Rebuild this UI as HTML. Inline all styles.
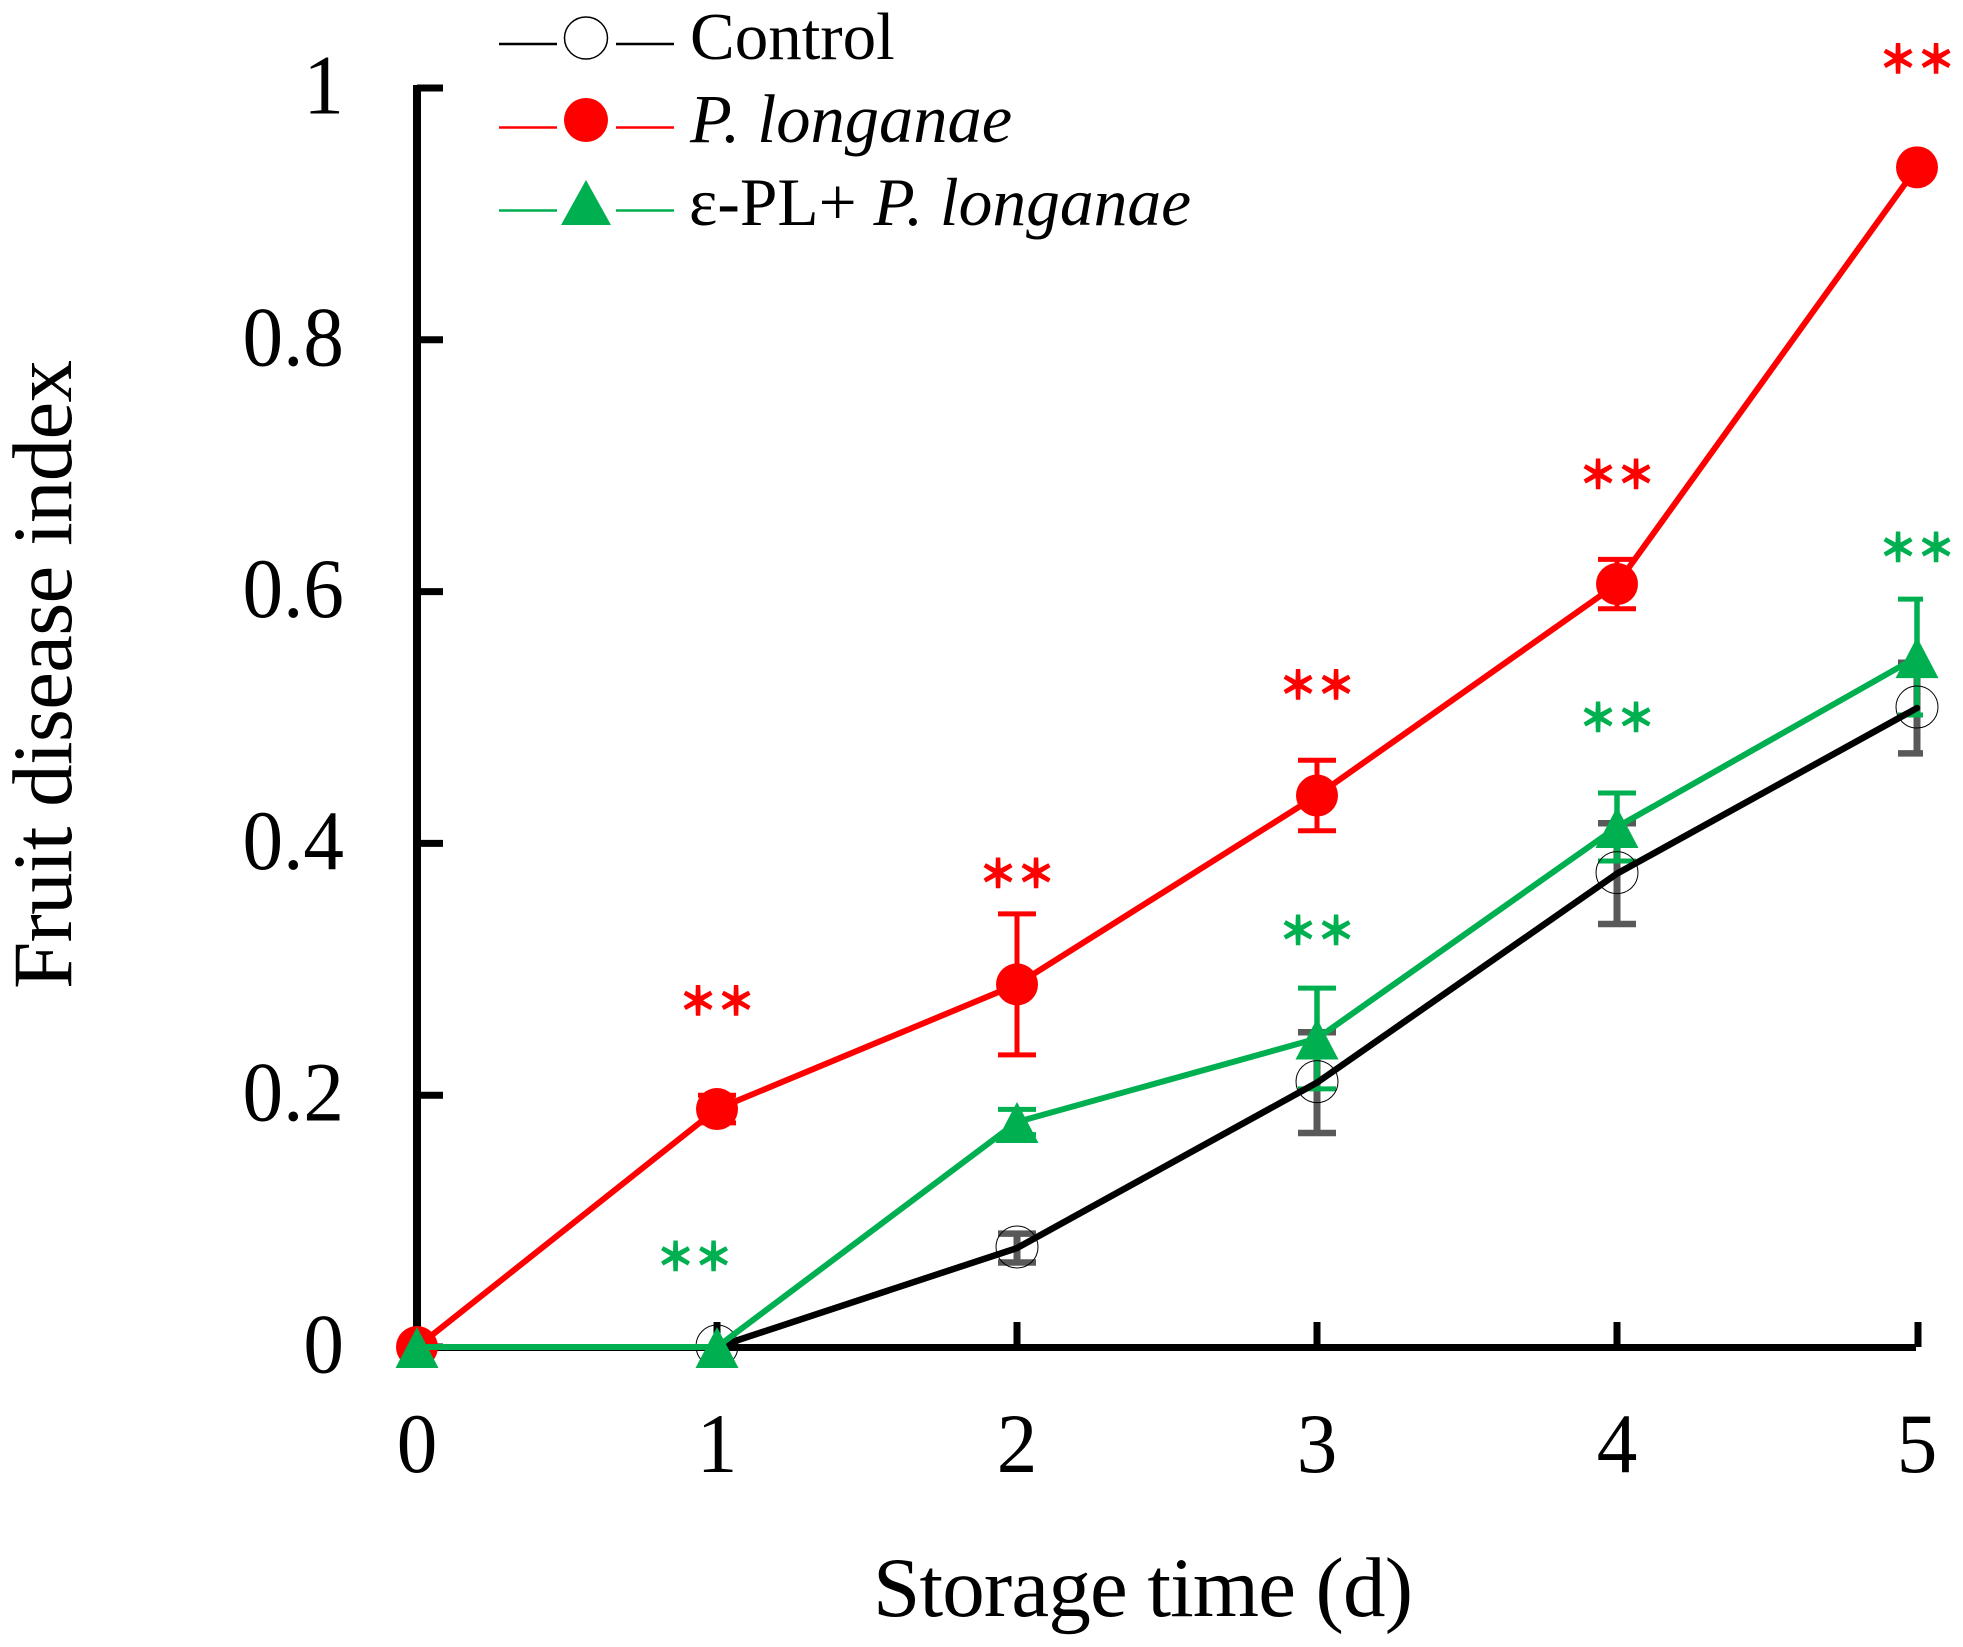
<!DOCTYPE html>
<html lang="en">
<head>
<meta charset="utf-8">
<title>Fruit disease index over storage time</title>
<style>
html,body{margin:0;padding:0;background:#fff;width:1963px;height:1647px;overflow:hidden}
svg{display:block}
text{font-family:"Liberation Serif","Noto Serif CJK SC",serif;fill:#000}
</style>
</head>
<body>
<svg id="chart" xmlns="http://www.w3.org/2000/svg" width="1963" height="1647" viewBox="0 0 1963 1647">
  <rect x="0" y="0" width="1963" height="1647" fill="#fff"/>
  <g id="axes"></g>
  <g id="marks"></g>
  <text x="873" y="1616" font-size="85" textLength="540" lengthAdjust="spacing">Storage time (d)</text>
  <text transform="translate(71,989) rotate(-90)" font-size="85" textLength="629" lengthAdjust="spacing">Fruit disease index</text>
  <g>
    <g>
      <line x1="499" x2="557" y1="44" y2="44" stroke="#000" stroke-width="2.5"/>
      <line x1="616" x2="674" y1="44" y2="44" stroke="#000" stroke-width="2.5"/>
      <ellipse cx="586" cy="38" rx="21.5" ry="21" fill="#fff" stroke="#000" stroke-width="1.5"/>
      <text x="690" y="59" font-size="67">Control</text>
    </g>
    <g>
      <line x1="499" x2="557" y1="127.500" y2="127.500" stroke="#f00" stroke-width="2.5"/>
      <line x1="616" x2="674" y1="127.500" y2="127.500" stroke="#f00" stroke-width="2.5"/>
      <ellipse cx="586" cy="120" rx="22" ry="22" fill="#f00"/>
      <text x="690" y="142" font-size="68.500" font-style="italic">P. longanae</text>
    </g>
    <g>
      <line x1="499" x2="557" y1="210.500" y2="210.500" stroke="#00B050" stroke-width="2.5"/>
      <line x1="616" x2="674" y1="210.500" y2="210.500" stroke="#00B050" stroke-width="2.5"/>
      <polygon points="586,180 611,225 561,225" fill="#00B050"/>
      <text x="689" y="225" font-size="67.500">ε-PL+ <tspan font-style="italic">P. longanae</tspan></text>
    </g>
  </g>
</svg>
<script>
const days = [0, 1, 2, 3, 4, 5];
const xTickLabels = ['0', '1', '2', '3', '4', '5'];
const yTicks = [0, 0.2, 0.4, 0.6, 0.8, 1];
const yTickLabels = ['0', '0.2', '0.4', '0.6', '0.8', '1'];

const controlValues = [0, 0, 0.0786, 0.21, 0.376, 0.5075];
const controlErrors = [0, 0, 0.0115, 0.04, 0.04, 0.036];
const pathogenValues = [0, 0.189, 0.288, 0.438, 0.606, 0.937];
const pathogenErrors = [0, 0.011, 0.056, 0.028, 0.0196, 0];
const treatedValues = [0, 0, 0.1787, 0.245, 0.413, 0.548];
const treatedErrors = [0, 0, 0.01, 0.04, 0.027, 0.046];

const redSigDays = [1, 2, 3, 4, 5];
const redSigLevels = [0.275, 0.376, 0.526, 0.693, 1.023];
const greenSigDays = [0.925, 3, 4, 5];
const greenSigLevels = [0.072, 0.331, 0.5, 0.635];

const NS = 'http://www.w3.org/2000/svg';
const xScale = v => 417 + v * 300;
const yScale = v => 1347 - v * 1259;
const axes = document.getElementById('axes');
const marks = document.getElementById('marks');

function make(tag, attrs, parent) {
  const el = document.createElementNS(NS, tag);
  for (const k in attrs) el.setAttribute(k, attrs[k]);
  parent.appendChild(el);
  return el;
}

/* axes */
const yAxisLine = make('line', {x1: xScale(0), x2: xScale(0), y1: yScale(1) - 3, y2: yScale(0) + 3, stroke: '#000', 'stroke-width': 8}, axes);


const xAxisLine = make('line', {x1: xScale(0), x2: xScale(5) - 1, y1: yScale(0) + 0.5, y2: yScale(0) + 0.5, stroke: '#000', 'stroke-width': 7}, axes);



yTicks.forEach((t, i) => {
  const tick = make('line', {x1: xScale(0), x2: xScale(0) + 26, y1: yScale(t), y2: yScale(t), stroke: '#000', 'stroke-width': 7}, axes);
  
  
  const label = make('text', {transform: 'translate(344,' + (yScale(t) + 25.5) + ') scale(0.955,1)', 'font-size': 85, 'text-anchor': 'end'}, axes);
  label.textContent = yTickLabels[i];
  
  
});

days.forEach((d, i) => {
  if (i > 0) {
    const offset = i === 5 ? 1 : 0;
    const tick = make('line', {x1: xScale(d) + offset, x2: xScale(d) + offset, y1: yScale(0), y2: yScale(0) - 25, stroke: '#000', 'stroke-width': 7}, axes);
    
    
  }
  const label = make('text', {transform: 'translate(' + xScale(d) + ',1472) scale(0.955,1)', 'font-size': 85, 'text-anchor': 'middle'}, axes);
  label.textContent = xTickLabels[i];
  
  
});

/* error bars: caps on the last day are cut off on the right, as in the source figure */
function errorBars(values, errors, colour, stemWidth, capHeight) {
  values.forEach((v, i) => {
    if (!errors[i]) return;
    const x = xScale(days[i]);
    const top = yScale(v + errors[i]);
    const bottom = yScale(v - errors[i]);
    const g = make('g', {}, marks);
    
    
    const right = Math.min(x + 19, 1923);
    make('line', {x1: x, x2: x, y1: top, y2: bottom, stroke: colour, 'stroke-width': stemWidth}, g);
    make('line', {x1: x - 19, x2: right, y1: top, y2: top, stroke: colour, 'stroke-width': capHeight}, g);
    make('line', {x1: x - 19, x2: right, y1: bottom, y2: bottom, stroke: colour, 'stroke-width': capHeight}, g);
  });
}

function seriesLine(values, colour, width, start, name) {
  const pts = values.map((v, i) => xScale(days[i]) + ',' + yScale(v)).slice(start).join(' ');
  const line = make('polyline', {points: pts, fill: 'none', stroke: colour, 'stroke-width': width, 'stroke-linejoin': 'round', 'stroke-linecap': 'round'}, marks);
  
  
}

errorBars(controlValues, controlErrors, '#595959', 7, 6.500);
errorBars(treatedValues, treatedErrors, '#00B050', 5.500, 5);

seriesLine(controlValues, '#000', 6.500, 1, 'control-line');

controlValues.forEach((v, i) => {
  if (i === 0) return;
  const c = make('circle', {cx: xScale(days[i]), cy: yScale(v) - 1, r: 21, fill: 'none', stroke: '#000', 'stroke-width': 1}, marks);
  
  
});

errorBars(pathogenValues, pathogenErrors, '#f00', 5, 5);
seriesLine(pathogenValues, '#f00', 6, 0, 'p-longanae-line');
pathogenValues.forEach((v, i) => {
  const c = make('circle', {cx: xScale(days[i]), cy: yScale(v), r: 21, fill: '#f00'}, marks);
  
  
});

seriesLine(treatedValues, '#00B050', 6, 0, 'epl-p-longanae-line');
treatedValues.forEach((v, i) => {
  const x = xScale(days[i]);
  const y = yScale(v);
  const p = make('polygon', {points: x + ',' + (y - 20) + ' ' + (x + 21.5) + ',' + (y + 21) + ' ' + (x - 21.5) + ',' + (y + 21), fill: '#00B050'}, marks);
  
  
});

/* significance markers */
function sigMarks(xs, levels, colour, name) {
  xs.forEach((d, i) => {
    const t = make('text', {x: xScale(d), y: yScale(levels[i]) + 14, 'font-size': 38, 'text-anchor': 'middle'}, marks);
    t.textContent = '＊＊';
    t.style.fill = colour;
    t.style.stroke = colour;
    t.style.strokeWidth = '1.5px';
    t.style.fontWeight = '700';
    t.style.fontFamily = '"Noto Sans CJK SC", sans-serif';
    
    
  });
}
sigMarks(redSigDays, redSigLevels, '#f00', 'significance-marker-red');
sigMarks(greenSigDays, greenSigLevels, '#00B050', 'significance-marker-green');
</script>
</body>
</html>
